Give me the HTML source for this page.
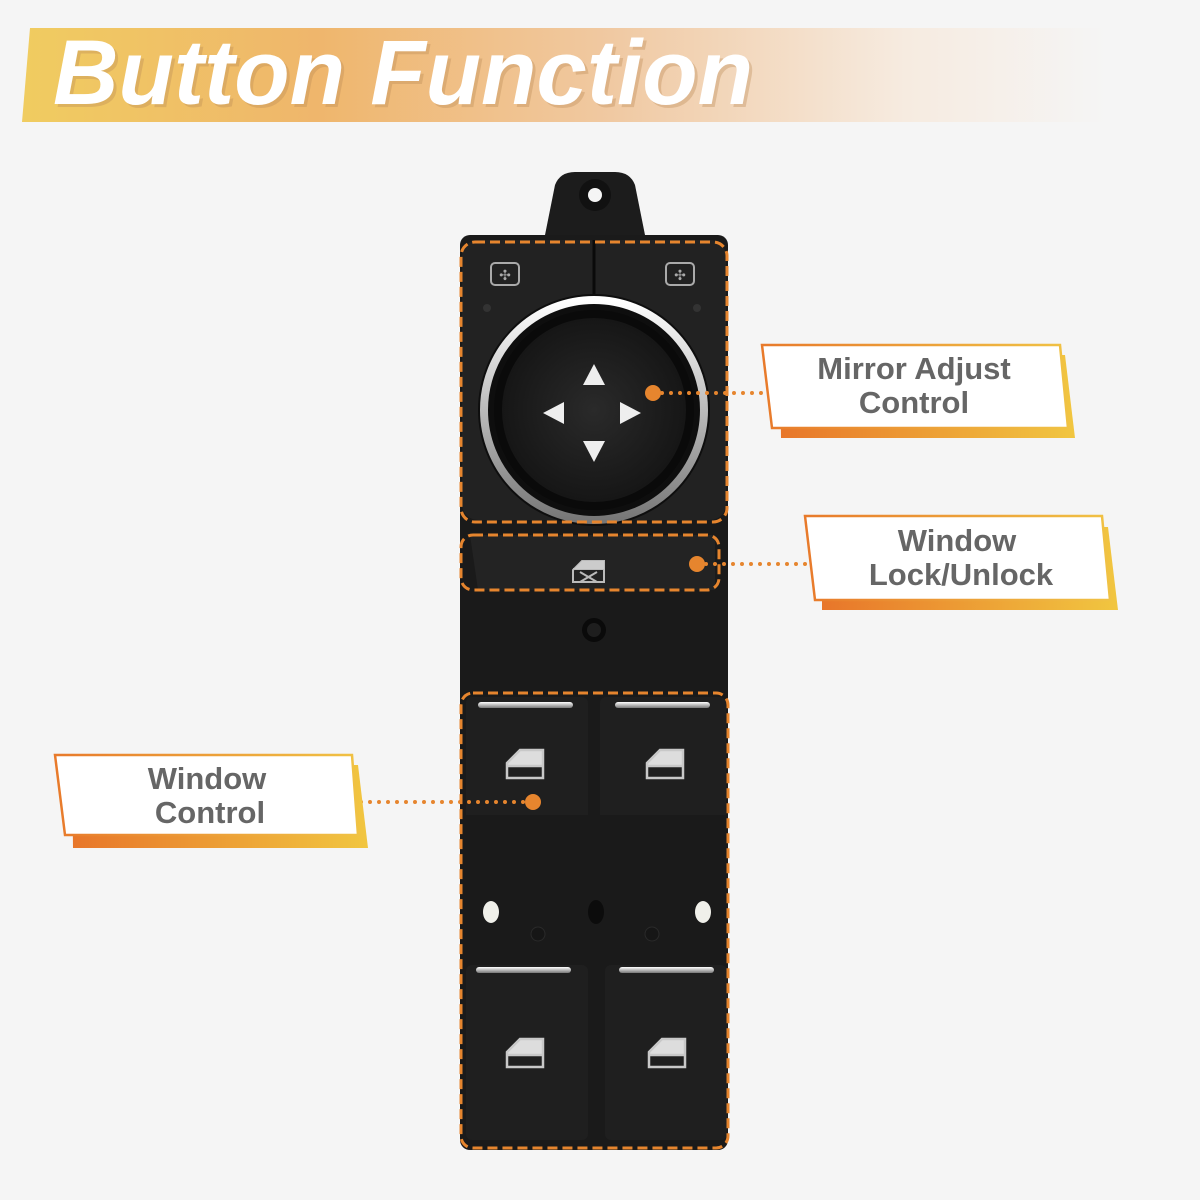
<!DOCTYPE html>
<html><head><meta charset="utf-8"><style>
html,body{margin:0;padding:0;background:#f5f5f5;}
svg{display:block}
</style></head><body>
<svg width="1200" height="1200" viewBox="0 0 1200 1200" xmlns="http://www.w3.org/2000/svg">
<defs>
<linearGradient id="hdr" x1="0" x2="1" y1="0" y2="0">
<stop offset="0" stop-color="#f0cc60"/><stop offset="0.25" stop-color="#efb66c"/>
<stop offset="0.5" stop-color="#f0c9a2"/><stop offset="0.75" stop-color="#f6ebe0"/><stop offset="0.92" stop-color="#f5f5f5"/>
</linearGradient>
<linearGradient id="sh" x1="0" x2="1"><stop offset="0" stop-color="#e8762a"/><stop offset="1" stop-color="#f1c640"/></linearGradient>
<linearGradient id="bd" x1="0" x2="1"><stop offset="0" stop-color="#e87a2b"/><stop offset="1" stop-color="#f0c244"/></linearGradient>
<linearGradient id="chrome" x1="0" x2="0" y1="0" y2="1"><stop offset="0" stop-color="#fff"/><stop offset="1" stop-color="#777"/></linearGradient>
<radialGradient id="knob" cx="0.5" cy="0.5" r="0.5"><stop offset="0" stop-color="#2a2a2a"/><stop offset="1" stop-color="#161616"/></radialGradient>
</defs>
<rect width="1200" height="1200" fill="#f5f5f5"/>
<!-- header -->
<path d="M30 28 H1200 V122 H22 Z" fill="url(#hdr)"/>
<text x="56" y="107" textLength="700" lengthAdjust="spacingAndGlyphs" font-family="Liberation Sans, sans-serif" font-weight="bold" font-style="italic" font-size="92" fill="#bb8a55" opacity="0.35">Button Function</text>
<text x="53" y="104" textLength="700" lengthAdjust="spacingAndGlyphs" font-family="Liberation Sans, sans-serif" font-weight="bold" font-style="italic" font-size="92" fill="#fff">Button Function</text>

<!-- device body -->
<path d="M545 235 L555 185 Q560 172 575 172 L615 172 Q630 172 635 185 L645 235 Z" fill="#1c1c1c"/>
<circle cx="595" cy="195" r="16" fill="#111"/><circle cx="595" cy="195" r="7" fill="#f5f5f5"/>
<rect x="460" y="235" width="268" height="915" rx="10" fill="#1a1a1a"/>
<rect x="462" y="240" width="264" height="280" rx="16" fill="#222"/>
<line x1="594" y1="240" x2="594" y2="295" stroke="#0a0a0a" stroke-width="3"/>
<g fill="none" stroke="#aaa" stroke-width="2">
<rect x="491" y="263" width="28" height="22" rx="4"/><rect x="666" y="263" width="28" height="22" rx="4"/>
</g>
<text x="505" y="280" text-anchor="middle" font-size="14" fill="#aaa" font-family="DejaVu Sans">✣</text>
<text x="680" y="280" text-anchor="middle" font-size="14" fill="#aaa" font-family="DejaVu Sans">✣</text>
<circle cx="487" cy="308" r="4" fill="#333"/><circle cx="697" cy="308" r="4" fill="#333"/>
<!-- knob -->
<circle cx="594" cy="410" r="116" fill="#0e0e0e"/>
<circle cx="594" cy="410" r="110" fill="none" stroke="url(#chrome)" stroke-width="8"/>
<circle cx="594" cy="410" r="100" fill="#0a0a0a"/>
<circle cx="594" cy="410" r="92" fill="url(#knob)"/>
<g fill="#eee">
<polygon points="594,364 583,385 605,385"/>
<polygon points="594,462 583,441 605,441"/>
<polygon points="543,413 564,402 564,424"/>
<polygon points="641,413 620,402 620,424"/>
</g>
<!-- lock button -->
<path d="M470 535 H715 V590 H478 Z" fill="#232323"/>
<g stroke="#bbb" stroke-width="2" fill="none"><path d="M573 582 V570 L582 561 H604 V582 Z"/><line x1="573" y1="569" x2="604" y2="569"/><line x1="580" y1="572" x2="597" y2="582"/><line x1="580" y1="582" x2="597" y2="572"/></g>
<path d="M582 561 H604 V569 H574 Z" fill="#ccc"/>
<circle cx="594" cy="630" r="12" fill="#0a0a0a"/><circle cx="594" cy="630" r="7" fill="#1e1e1e"/>
<!-- window buttons -->
<g>
<rect x="466" y="697" width="122" height="158" rx="6" fill="#1f1f1f"/>
<rect x="600" y="697" width="126" height="158" rx="6" fill="#1f1f1f"/>
<rect x="466" y="965" width="122" height="175" rx="6" fill="#1f1f1f"/>
<rect x="605" y="965" width="122" height="175" rx="6" fill="#1f1f1f"/>
<rect x="466" y="815" width="122" height="40" fill="#1a1a1a"/>
<rect x="600" y="815" width="126" height="40" fill="#1a1a1a"/>
<rect x="478" y="702" width="95" height="6" rx="3" fill="url(#chrome)"/>
<rect x="615" y="702" width="95" height="6" rx="3" fill="url(#chrome)"/>
<rect x="476" y="967" width="95" height="6" rx="3" fill="url(#chrome)"/>
<rect x="619" y="967" width="95" height="6" rx="3" fill="url(#chrome)"/>
</g>
<g fill="#ddd"><path d="M508 763 L520 751 H542 V765 H508Z"/><path d="M648 763 L660 751 H682 V765 H648Z"/><path d="M508 1052 L520 1040 H542 V1054 H508Z"/><path d="M650 1052 L662 1040 H684 V1054 H650Z"/></g>
<g stroke="#c8c8c8" stroke-width="2.5" fill="none">
<path d="M507 778 V763 L520 750 H543 V778 Z"/><line x1="507" y1="766" x2="543" y2="766"/>
<path d="M647 778 V763 L660 750 H683 V778 Z"/><line x1="647" y1="766" x2="683" y2="766"/>
<path d="M507 1067 V1052 L520 1039 H543 V1067 Z"/><line x1="507" y1="1055" x2="543" y2="1055"/>
<path d="M649 1067 V1052 L662 1039 H685 V1067 Z"/><line x1="649" y1="1055" x2="685" y2="1055"/>
</g>
<!-- middle plate -->
<ellipse cx="491" cy="912" rx="8" ry="11" fill="#f0f0ea"/>
<ellipse cx="703" cy="912" rx="8" ry="11" fill="#f0f0ea"/>
<ellipse cx="596" cy="912" rx="8" ry="12" fill="#0c0c0c"/>
<circle cx="538" cy="934" r="7" fill="#161616" stroke="#2a2a2a"/><circle cx="652" cy="934" r="7" fill="#161616" stroke="#2a2a2a"/>

<!-- dashed outlines -->
<g fill="none" stroke="#e6852e" stroke-width="3" stroke-dasharray="10,5">
<rect x="461" y="242" width="266" height="280" rx="14"/>
<rect x="461" y="535" width="258" height="55" rx="12"/>
<rect x="461" y="693" width="267" height="455" rx="12"/>
</g>

<!-- connectors -->
<g stroke="#e6852e" stroke-width="4" stroke-linecap="round" stroke-dasharray="0,9">
<line x1="662" y1="393" x2="790" y2="393"/>
<line x1="706" y1="564" x2="832" y2="564"/>
<line x1="352" y1="802" x2="525" y2="802"/>
</g>
<g fill="#e6852e">
<circle cx="653" cy="393" r="8"/><circle cx="797" cy="392" r="8"/>
<circle cx="697" cy="564" r="8"/><circle cx="839" cy="564" r="8"/>
<circle cx="533" cy="802" r="8"/><circle cx="344" cy="802" r="7"/>
</g>

<!-- label boxes -->
<g font-family="Liberation Sans, sans-serif" font-weight="bold" font-size="31" fill="#666" text-anchor="middle">
<path d="M780 355 H1065 L1075 438 H781 Z" fill="url(#sh)"/>
<path d="M762 345 H1060 L1068 428 H772 Z" fill="#fff" stroke="url(#bd)" stroke-width="2.5"/>
<text x="914" y="379">Mirror Adjust</text><text x="914" y="413">Control</text>

<path d="M822 527 H1108 L1118 610 H822 Z" fill="url(#sh)"/>
<path d="M805 516 H1102 L1110 600 H815 Z" fill="#fff" stroke="url(#bd)" stroke-width="2.5"/>
<text x="957" y="551">Window</text><text x="961" y="585">Lock/Unlock</text>

<path d="M72 765 H358 L368 848 H73 Z" fill="url(#sh)"/>
<path d="M55 755 H352 L358 835 H65 Z" fill="#fff" stroke="url(#bd)" stroke-width="2.5"/>
<text x="207" y="789">Window</text><text x="210" y="823">Control</text>
</g>
</svg>
</body></html>
